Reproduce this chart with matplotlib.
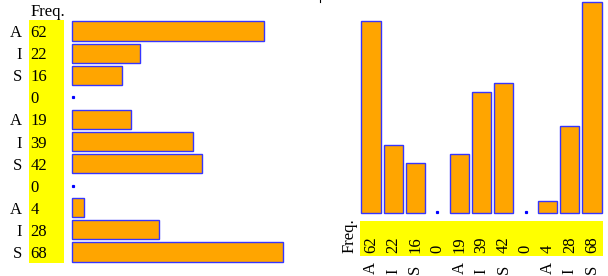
import matplotlib.pyplot as plt
from matplotlib.lines import Line2D
from matplotlib.transforms import blended_transform_factory

letters = ["A", "I", "S", "", "A", "I", "S", "", "A", "I", "S"]
freq = [62, 22, 16, 0, 19, 39, 42, 0, 4, 28, 68]

W, H = 608, 276
ORANGE = "#ffa500"
EDGE = "#3535ff"
FS = 12

plt.rcParams["font.family"] = ["Liberation Serif", "DejaVu Serif"]
fig = plt.figure(figsize=(W / 100, H / 100), dpi=100)


def px_axes(left, top, width, height, **kw):
    ax = fig.add_axes([left / W, 1 - (top + height) / H, width / W, height / H], **kw)
    for s in ax.spines.values():
        s.set_visible(False)
    ax.set_xticks([])
    ax.set_yticks([])
    return ax


def tidy(bars):
    # no clipping at the axes edge, and no outline on empty bars
    for b, v in zip(bars, freq):
        b.set_clip_on(False)
        if v == 0:
            b.set_linewidth(0)


pos = list(range(len(freq)))
zeros = [i for i, v in enumerate(freq) if v == 0]

# ---- left panel: horizontal bars
lab = px_axes(29, 20, 35, 243, facecolor="yellow")
lab.set_xlim(0, 1)
lab.set_ylim(len(freq) - 0.5, -0.5)
for i, (l, v) in enumerate(zip(letters, freq)):
    lab.text(0.04, i, str(v), ha="left", va="center_baseline", fontsize=FS)
    lab.text(-0.2, i, l, ha="right", va="center_baseline", fontsize=FS, clip_on=False)
lab.text(0.04, 1 + 8 / 243, "Freq.", ha="left", va="center", fontsize=FS,
         transform=lab.transAxes)

bl = px_axes(72, 20, 211, 243)
tidy(bl.barh(pos, freq, height=0.87, color=ORANGE, edgecolor=EDGE, linewidth=1.0))
bl.plot([0.3] * len(zeros), zeros, "s", color="blue", ms=1.3, clip_on=False)
bl.set_xlim(0, max(freq))
bl.set_ylim(len(freq) - 0.5, -0.5)

# ---- right panel: vertical bars
br = px_axes(360, 2, 243, 211)
tidy(br.bar(pos, freq, width=0.87, color=ORANGE, edgecolor=EDGE, linewidth=1.0))
br.plot(zeros, [0.3] * len(zeros), "s", color="blue", ms=1.3, clip_on=False)
br.set_xlim(-0.5, len(freq) - 0.5)
br.set_ylim(0, max(freq))

band = px_axes(360, 221, 243, 35, facecolor="yellow")
band.set_xlim(-0.5, len(freq) - 0.5)
tr = blended_transform_factory(band.transData, band.transAxes)
for i, (l, v) in enumerate(zip(letters, freq)):
    band.text(i, 3 / 35, str(v), rotation=90, ha="center", va="bottom",
              fontsize=FS, transform=tr)
    band.text(i, -18 / 35, l, rotation=90, ha="center", va="bottom",
              fontsize=FS, transform=tr, clip_on=False)
band.text(-10 / 243, 3 / 35, "Freq.", rotation=90, ha="center", va="bottom",
          fontsize=FS, transform=band.transAxes)

fig.add_artist(Line2D([320 / W, 320 / W], [1 - 2 / H, 1], color="black", lw=0.8))

fig.savefig("out.png", dpi=100)
